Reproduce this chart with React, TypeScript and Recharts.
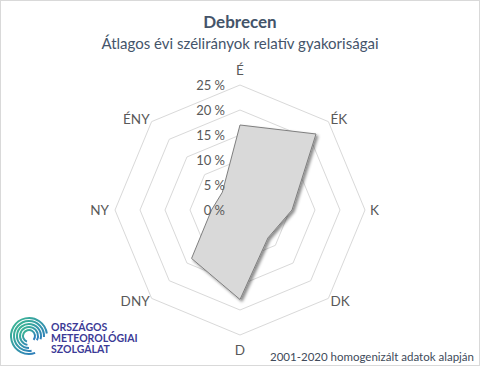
import React from 'react';
import { RadarChart, Radar, PolarGrid, PolarAngleAxis, PolarRadiusAxis } from 'recharts';

const directions = ['É', 'ÉK', 'K', 'DK', 'D', 'DNY', 'NY', 'ÉNY'];
const frequencies = [17.0, 21.5, 10.4, 7.9, 17.9, 13.7, 5.7, 5.0];
const radiusTicks = [0, 5, 10, 15, 20, 25];

const data = directions.map((dir, i) => ({ dir, value: frequencies[i] }));

const CX = 240;
const CY = 210;
const OUTER = 125;
const FONT = 'Lato, "Open Sans", sans-serif';
const LABEL = '#595959';

const AngleTick = (props: any) => {
  const { payload } = props;
  const a = (payload.coordinate * Math.PI) / 180;
  const cos = Math.cos(a);
  const sin = Math.sin(a);
  let x = CX + OUTER * cos;
  let y = CY - OUTER * sin;
  let anchor = 'middle';
  if (Math.abs(cos) > 0.9) {
    anchor = cos > 0 ? 'start' : 'end';
    x += cos > 0 ? 5 : -6;
  } else if (Math.abs(cos) > 0.1) {
    anchor = cos > 0 ? 'start' : 'end';
    x += cos > 0 ? 2 : -2;
    y -= 4 * sin;
  } else {
    y -= 15 * sin;
  }
  return (
    <text x={x} y={y} textAnchor={anchor} dominantBaseline="central" fill={LABEL} fontSize={13.5} fontFamily={FONT}>
      {payload.value}
    </text>
  );
};

const RadiusTick = (props: any) => {
  const { x, y, payload } = props;
  return (
    <text x={x - 15} y={y} textAnchor="end" dominantBaseline="central" fill={LABEL} fontSize={13} fontFamily={FONT}>
      {`${payload.value} %`}
    </text>
  );
};

const Logo = () => (
  <svg width={140} height={50} style={{ position: 'absolute', left: 6, top: 311 }}>
    <defs>
      <linearGradient id="omsz" x1="0" y1="0" x2="1" y2="1">
        <stop offset="0%" stopColor="#3dbb8f" />
        <stop offset="100%" stopColor="#2b72c4" />
      </linearGradient>
    </defs>
    {[6, 9, 12, 15, 18].map((r, i) => {
      const s = (-40 + i * 12) * (Math.PI / 180);
      const e = (250 + i * 10) * (Math.PI / 180);
      const x1 = 22 + r * Math.cos(s);
      const y1 = 24 - r * Math.sin(s);
      const x2 = 22 + r * Math.cos(e);
      const y2 = 24 - r * Math.sin(e);
      return (
        <path key={r} d={`M${x1},${y1} A${r},${r} 0 1 0 ${x2},${y2}`} fill="none" stroke="url(#omsz)" strokeWidth={2} />
      );
    })}
    <g fill="#3c3a96" fontFamily={FONT} fontWeight={700} fontSize={10.5}>
      <text x={44} y={15} dominantBaseline="central">ORSZÁGOS</text>
      <text x={44} y={26} dominantBaseline="central">METEOROLÓGIAI</text>
      <text x={44} y={37} dominantBaseline="central">SZOLGÁLAT</text>
    </g>
  </svg>
);

const App: React.FC = () => (
  <div
    style={{
      position: 'absolute',
      left: 0,
      top: 0,
      width: 480,
      height: 366,
      boxSizing: 'border-box',
      border: '1px solid #d9d9d9',
      background: '#fff',
      fontFamily: FONT,
    }}
  >
    <svg width={0} height={0} style={{ position: 'absolute' }}>
      <defs>
        <filter id="polyShadow" x="-20%" y="-20%" width="140%" height="140%">
          <feDropShadow dx={2} dy={2} stdDeviation={1.5} floodColor="#000" floodOpacity={0.45} />
        </filter>
      </defs>
    </svg>
    <div style={{ position: 'absolute', left: -1, top: -1 }}>
      <RadarChart width={480} height={366} data={data} cx={CX} cy={CY} outerRadius={OUTER} margin={{ top: 0, right: 0, bottom: 0, left: 0 }}>
        <text x={240} y={21} textAnchor="middle" dominantBaseline="central" fill="#44546a" fontSize={17} fontWeight={700} fontFamily={FONT}>
          Debrecen
        </text>
        <text x={240} y={43} textAnchor="middle" dominantBaseline="central" fill="#44546a" fontSize={15} fontFamily={FONT}>
          Átlagos évi szélirányok relatív gyakoriságai
        </text>
        <text x={474} y={356} textAnchor="end" dominantBaseline="central" fill="#404a5a" fontSize={11.5} fontFamily={FONT}>
          2001-2020 homogenizált adatok alapján
        </text>
        <PolarGrid gridType="polygon" radialLines={false} stroke="#d9d9d9" />
        <PolarAngleAxis dataKey="dir" tick={<AngleTick />} tickLine={false} axisLine={false} />
        <PolarRadiusAxis angle={90} domain={[0, 25]} tickCount={6} ticks={radiusTicks as any} axisLine={false} tickLine={false} tick={<RadiusTick />} />
        <Radar
          dataKey="value"
          fill="#d9d9d9"
          fillOpacity={1}
          stroke="#7f7f7f"
          strokeWidth={1}
          isAnimationActive={false}
          style={{ filter: 'url(#polyShadow)' }}
        />
      </RadarChart>
    </div>
    <Logo />
  </div>
);

export default App;
